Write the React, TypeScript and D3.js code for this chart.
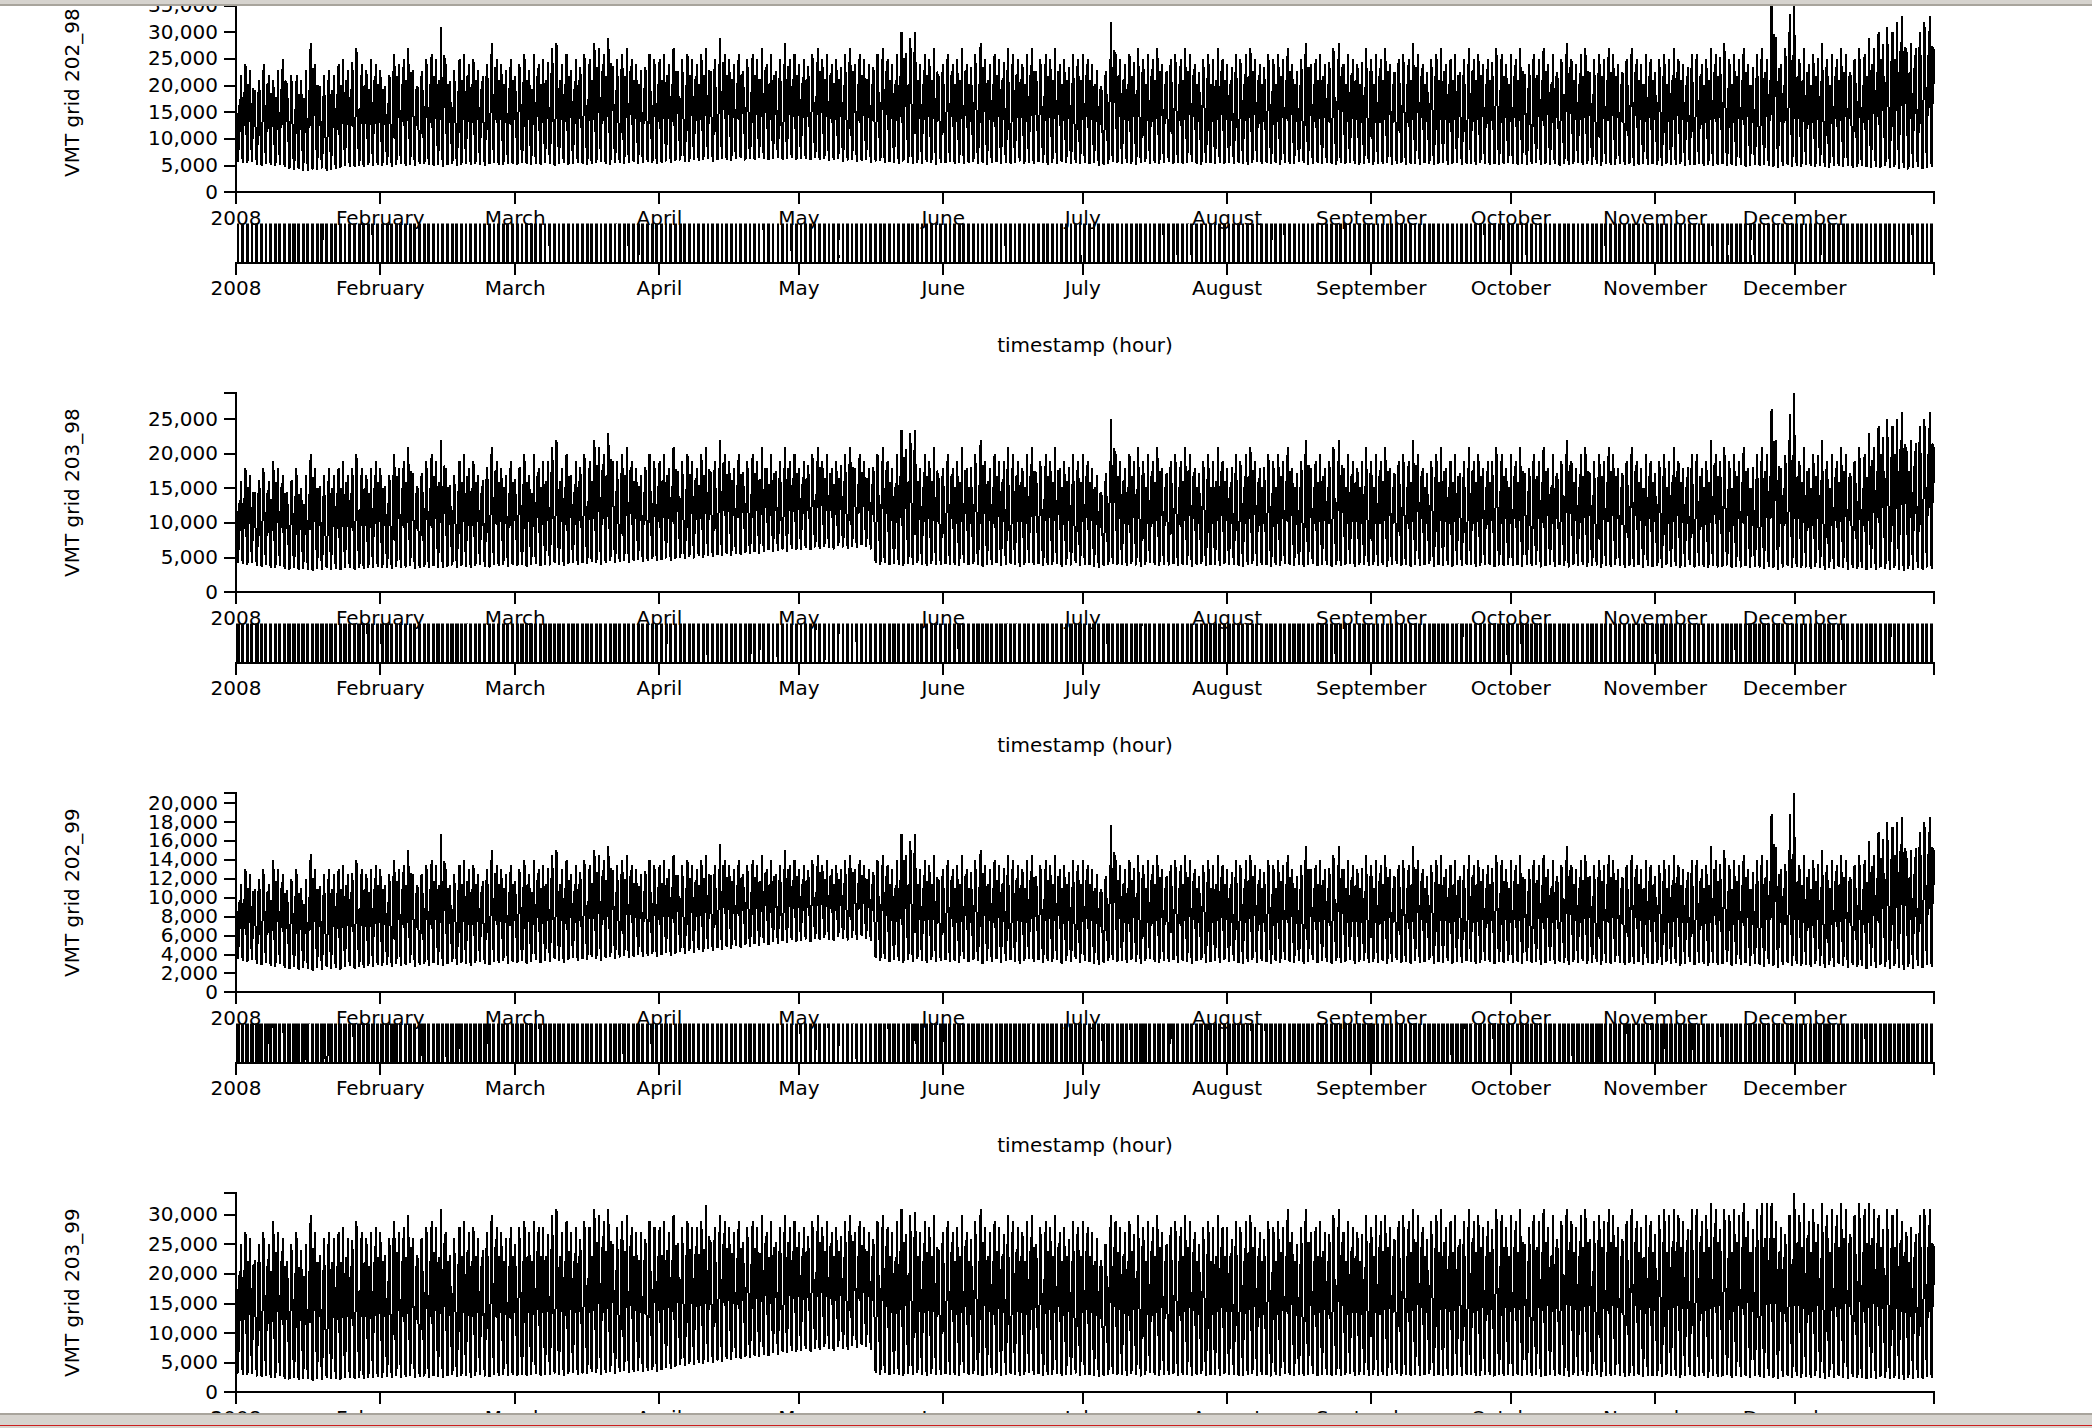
import React from "react";
import * as d3 from "d3";

// ---------------- DATA ----------------
const SERIES_NAMES = ["VMT grid 202_98", "VMT grid 203_98", "VMT grid 202_99", "VMT grid 203_99"];
const MONTH_LABELS = ["2008", "February", "March", "April", "May", "June", "July", "August", "September", "October", "November", "December"];
const X_TITLE = "timestamp (hour)";

const Y_TICKS_202_98 = [0, 5000, 10000, 15000, 20000, 25000, 30000, 35000];
const Y_TICKS_203_98 = [0, 5000, 10000, 15000, 20000, 25000];
const Y_TICKS_202_99 = [0, 2000, 4000, 6000, 8000, 10000, 12000, 14000, 16000, 18000, 20000];
const Y_TICKS_203_99 = [0, 5000, 10000, 15000, 20000, 25000, 30000];

// typical shape of one day (UTC hours 0..23), share of the day's range
const PROFILE_WEEKDAY = [0.92, 1.0, 0.84, 0.6, 0.47, 0.39, 0.31, 0.22, 0.13, 0.06, 0.02, 0.0, 0.04, 0.18, 0.5, 0.8, 0.78, 0.55, 0.42, 0.45, 0.52, 0.58, 0.66, 0.78];
const PROFILE_WEEKEND = [0.88, 0.82, 0.72, 0.6, 0.5, 0.42, 0.35, 0.27, 0.18, 0.1, 0.04, 0.01, 0.0, 0.04, 0.12, 0.24, 0.36, 0.48, 0.6, 0.72, 0.84, 1.0, 0.95, 0.9];

// daily peaks (thousands), 1 Jan .. 30 Dec 2008
const PEAK_202_98 = [
  19,22,24,23,21,23,24,22,21,23,25,22,20,22,21,23,28,24,22,21,23,22,24,25,23,27,22,24,23,25,24,
  23,22,24,26,24,25,27,23,22,25,24,26,25,31,24,23,22,25,26,24,25,23,24,26,28,25,24,23,25,
  24,26,25,23,26,24,25,27,28,25,24,26,23,25,26,24,25,28,27,26,29,25,24,26,27,25,24,23,26,25,24,
  25,26,24,27,25,23,26,25,24,26,27,25,24,29,26,25,24,26,25,23,26,25,27,24,26,25,24,28,25,26,
  24,25,26,24,27,25,26,24,25,26,25,27,24,26,25,24,26,25,27,25,24,26,30,29,30,25,24,26,25,27,24,
  25,26,24,25,27,24,26,25,28,25,24,26,25,27,24,26,25,24,26,27,25,24,26,25,27,24,25,26,24,25,
  26,25,24,23,22,25,32,26,25,24,26,27,25,24,26,25,27,24,25,26,24,25,27,26,24,25,26,24,25,27,25,
  24,26,25,24,26,27,25,24,26,25,24,26,25,27,24,25,26,28,24,25,26,24,27,25,28,24,26,25,24,27,25,
  24,26,25,27,24,25,26,24,25,28,26,24,25,26,25,27,24,25,26,25,24,27,25,26,24,25,27,25,26,24,
  26,25,27,24,25,26,25,27,24,26,25,26,28,25,24,26,27,25,24,26,25,27,26,24,25,26,27,25,24,26,25,
  25,26,24,25,27,25,24,26,25,26,24,25,27,26,28,25,24,26,25,27,24,26,25,27,25,36,28,24,30,37.4,
  26,25,27,24,26,28,25,24,26,25,27,26,25,27,24,26,29,27,30,31,29,30,32,33,27,28,30,32,31,33
];
const PEAK_203_98 = [
  15,16,18,17,16,18,17,16,19,18,17,16,18,17,15,17,20,18,17,16,18,17,18,19,17,20,17,18,17,18,19,
  18,17,18,20,18,19,21,17,17,19,18,20,19,22,18,17,17,19,20,18,19,17,18,20,21,19,18,17,19,
  18,20,19,17,20,18,19,21,22,19,18,20,17,19,20,18,19,22,21,20,23,19,18,20,21,19,18,17,20,19,18,
  19,20,18,21,19,17,20,19,18,20,21,19,18,22,20,19,18,20,19,17,20,19,21,18,20,19,18,21,19,20,
  18,19,20,18,21,19,20,18,19,20,19,21,18,20,19,18,20,19,21,19,18,20,23.5,23,23.5,19,18,20,19,21,18,
  19,20,18,19,21,18,20,19,22,19,18,20,19,21,18,20,19,18,20,21,19,18,20,19,21,18,19,20,18,19,
  20,19,18,17,16,19,25,20,19,18,20,21,19,18,20,19,21,18,19,20,18,19,21,20,18,19,20,18,19,21,19,
  18,20,19,18,20,21,19,18,20,19,18,20,19,21,18,19,20,22,18,19,20,18,21,19,22,18,20,19,18,21,19,
  18,20,19,21,18,19,20,18,19,22,20,18,19,20,19,21,18,19,20,19,18,21,19,20,18,19,21,19,20,18,
  20,19,21,18,19,20,19,21,18,20,19,20,22,19,18,20,21,19,18,20,19,21,20,18,19,20,21,19,18,20,19,
  19,20,18,19,21,19,18,20,19,20,18,19,22,20,21,19,18,20,19,21,18,20,19,21,20,26.5,22,18,22,28.8,
  20,19,21,18,20,22,19,18,20,19,21,20,19,21,18,20,23,21,24,25,23,24,25,26,21,22,24,25,24,26
];
const PEAK_202_99 = [
  11,11.5,13,12.5,12,13,12.5,11.5,14,13,12.5,12,13,12.5,11,12,14.6,13,12.5,12,13,12.5,13,13.5,12.5,14,12.5,13,12.5,13,13.5,
  13,12.5,13,14,13,13.5,15,12.5,12.5,13.5,13,14,13.5,16.7,13,12.5,12.5,13.5,14,13,13.5,12.5,13,14,15,13.5,13,12.5,13.5,
  13,14,13.5,12.5,14,13,13.5,14.5,15,13.5,13,14,12.5,13.5,14,13,13.5,15,14.5,14,15.5,13.5,13,14,14.5,13.5,13,12.5,14,13.5,13,
  13.5,14,13,14.5,13.5,12.5,14,13.5,13,14,14.5,13.5,13,15.7,14,13.5,13,14,13.5,12.5,14,13.5,14.5,13,14,13.5,13,15,13.5,14,
  13,13.5,14,13,14.5,13.5,14,13,13.5,14,13.5,14.5,13,14,13.5,13,14,13.5,14.5,13.5,13,14,16.7,16,16.7,13.5,13,14,13.5,14.5,13,
  13.5,14,13,13.5,14.5,13,14,13.5,15,13.5,13,14,13.5,14.5,13,14,13.5,13,14,14.5,13.5,13,14,13.5,14.5,13,13.5,14,13,13.5,
  14,13.5,13,12.5,12,13.5,17.7,14,13.5,13,14,14.5,13.5,13,14,13.5,14.5,13,13.5,14,13,13.5,14.5,14,13,13.5,14,13,13.5,14.5,13.5,
  13,14,13.5,13,14,14.5,13.5,13,14,13.5,13,14,13.5,14.5,13,13.5,14,15.5,13,13.5,14,13,14.5,13.5,15.5,13,14,13.5,13,14.5,13.5,
  13,14,13.5,14.5,13,13.5,14,13,13.5,15.5,14,13,13.5,14,13.5,14.5,13,13.5,14,13.5,13,14.5,13.5,14,13,13.5,14.5,13.5,14,13,
  14,13.5,14.5,13,13.5,14,13.5,14.5,13,14,13.5,14,15.5,13.5,13,14,14.5,13.5,13,14,13.5,14.5,14,13,13.5,14,14.5,13.5,13,14,13.5,
  13.5,14,13,13.5,14.5,13.5,13,14,13.5,14,13,13.5,15.5,14,15,13.5,13,14,13.5,14.5,13,14,13.5,14.5,14,18.9,15,13,15,21.1,
  14,13.5,14.5,13,14,15,13.5,13,14,13.5,14.5,14,13.5,14.5,13,14,16,14.5,17,18,16.5,17.5,18,18.5,14.5,15,17,18,17.5,18.5
];
const PEAK_203_99 = [
  24,25,27,26,25,27,26,25,29,27,26,25,27,26,24,25,30,27,26,25,27,26,27,28,26,29,26,27,26,27,28,
  27,26,28,29,27,28,30,26,26,28,27,29,28,31,27,26,26,28,29,27,28,26,27,29,30,28,27,26,28,
  28,29,28,27,29,28,28,30,31,28,27,29,27,28,29,28,28,31,30,29,31,28,27,29,30,28,27,27,29,28,28,
  28,29,27,30,28,27,29,28,28,29,31.6,28,27,30,29,28,27,29,28,27,29,28,30,27,29,28,27,30,28,29,
  27,28,29,27,30,28,29,27,28,29,28,30,27,29,28,27,29,28,30,28,27,29,31,30,30.5,28,27,29,28,30,27,
  28,29,27,28,30,27,29,28,31,28,27,29,28,30,27,29,28,27,29,30,28,27,29,28,30,27,28,29,27,28,
  29,28,27,26,25,28,30,29,28,27,29,30,28,27,29,28,30,27,28,29,27,28,30,29,27,28,29,27,28,30,28,
  28,29,28,27,29,30,28,27,29,28,27,29,28,31,27,28,29,31,27,28,29,27,30,28,31,27,29,28,27,30,28,
  28,30,29,30,28,29,30,28,29,31,30,28,29,30,29,31,28,29,30,29,28,31,29,30,28,29,31,29,30,28,
  30,29,31,28,29,30,29,31,28,30,29,30,31,29,28,30,31,29,28,30,29,31,30,28,29,30,31,29,28,30,29,
  30,31,29,30,31,30,29,31,30,31,29,30,32,31,31,30,29,31,30,32,29,31,30,32,32,32,29,28,30,33.7,
  31,30,32,29,31,32,30,29,31,30,32,31,30,32,29,31,32,31,30,31,29,30,31,29,27,28,30,31,30,31
];

// nightly lows (thousands), 1 Jan .. 30 Dec 2008
const LOW_202_98 = [
  5.8,5.6,5.5,5.7,5.2,5.0,5.3,5.1,4.9,5.2,4.8,4.5,4.2,4.4,4.1,4.0,4.3,4.2,4.5,4.1,4.3,4.4,4.6,4.9,4.7,4.8,5.0,4.7,5.1,4.9,5.2,
  5.0,5.1,4.8,5.2,5.3,5.0,5.2,4.9,5.3,5.4,5.1,5.0,5.2,4.8,5.1,5.3,5.0,5.2,5.4,5.1,5.3,5.2,5.0,5.3,5.5,5.2,5.1,5.4,5.3,
  5.2,5.5,5.3,5.1,5.4,5.2,5.6,5.3,5.0,5.4,5.5,5.2,5.3,5.6,5.4,5.1,5.3,5.5,5.7,5.4,5.2,5.5,5.6,5.3,5.5,5.7,5.4,5.6,5.8,5.5,5.3,
  5.6,5.8,5.5,5.9,6.0,5.7,5.8,6.1,5.9,6.0,6.2,5.8,6.0,6.3,6.1,5.9,6.2,6.4,6.0,6.3,6.1,6.4,6.2,6.0,6.3,6.5,6.1,6.2,6.4,6.0,
  6.2,6.3,6.0,6.4,6.1,6.2,5.9,6.1,6.3,5.8,6.0,6.1,5.7,5.9,6.0,5.6,5.8,5.9,5.5,5.7,5.6,5.4,5.8,5.5,5.3,5.6,5.4,5.7,5.5,5.2,5.6,
  5.5,5.7,5.4,5.6,5.3,5.5,5.8,5.4,5.6,5.2,5.5,5.7,5.3,5.6,5.4,5.5,5.8,5.3,5.6,5.4,5.7,5.5,5.2,5.6,5.4,5.7,5.5,5.3,5.6,5.4,
  5.6,5.3,5.5,5.0,5.2,5.4,5.7,5.5,5.3,5.6,5.4,5.2,5.5,5.7,5.4,5.6,5.3,5.5,5.8,5.4,5.6,5.3,5.5,5.7,5.4,5.2,5.6,5.5,5.3,5.6,5.4,
  5.5,5.3,5.6,5.4,5.2,5.5,5.7,5.3,5.6,5.4,5.5,5.2,5.6,5.4,5.3,5.7,5.5,5.2,5.4,5.6,5.3,5.5,5.4,5.2,5.6,5.3,5.5,5.4,5.1,5.3,5.5,
  5.2,5.4,5.3,5.5,5.1,5.3,5.6,5.2,5.4,5.3,5.1,5.5,5.3,5.2,5.4,5.6,5.2,5.3,5.5,5.1,5.4,5.3,5.2,5.5,5.3,5.1,5.4,5.2,5.3,5.5,
  5.3,5.1,5.4,5.2,5.3,5.5,5.1,5.4,5.2,5.3,5.0,5.4,5.2,5.3,5.5,5.1,5.3,5.2,5.4,5.0,5.3,5.2,5.1,5.4,5.2,5.3,5.0,5.2,5.4,5.1,5.3,
  5.2,5.0,5.3,5.1,5.2,5.4,5.0,5.2,5.1,5.3,4.9,5.2,5.0,5.1,5.3,4.9,5.1,5.0,5.2,4.8,5.0,5.1,4.9,5.2,5.0,4.8,4.6,4.9,5.1,4.8,
  5.0,4.8,5.1,4.9,4.7,5.0,4.8,4.6,4.9,5.0,4.7,4.9,4.6,4.8,5.0,4.7,4.5,4.8,4.6,4.9,4.5,4.7,4.4,4.6,4.3,4.5,4.7,4.4,4.6,4.8
];
const LOW_203_98 = [
  4.3,4.1,4.0,4.2,3.8,3.7,3.9,3.6,3.5,3.8,3.4,3.3,3.5,3.2,3.4,3.3,3.1,3.4,3.2,3.5,3.3,3.4,3.2,3.5,3.6,3.3,3.5,3.4,3.6,3.5,3.7,
  3.5,3.6,3.4,3.7,3.5,3.6,3.8,3.4,3.6,3.7,3.5,3.8,3.6,3.5,3.7,3.9,3.6,3.8,3.7,3.5,3.8,3.9,3.7,3.6,3.9,3.8,4.0,3.7,3.9,
  3.8,4.0,3.7,3.9,4.1,3.8,4.0,3.9,4.2,4.0,3.8,4.1,4.3,4.0,4.2,4.1,4.4,4.2,4.0,4.3,4.5,4.2,4.4,4.6,4.3,4.5,4.7,4.4,4.6,4.8,4.5,
  4.7,4.9,4.6,4.8,5.0,4.8,5.1,4.9,5.2,5.0,5.3,5.1,5.4,5.2,5.5,5.3,5.6,5.4,5.7,5.5,5.8,5.6,5.9,6.1,5.8,6.0,6.2,5.9,6.3,6.1,
  6.2,6.4,6.1,6.5,6.3,6.6,6.4,6.2,6.7,6.5,6.3,6.6,6.4,6.8,6.5,6.2,4.3,4.0,4.2,3.9,4.1,4.0,3.8,4.1,3.9,4.2,4.0,3.8,4.1,3.9,4.0,
  4.1,3.9,4.0,3.8,4.2,3.9,4.1,4.0,3.7,4.0,3.9,4.2,3.8,4.0,4.1,3.9,3.7,4.0,4.2,3.9,4.1,3.8,4.0,3.9,4.1,3.7,4.0,3.9,4.2,3.8,
  4.0,3.9,3.7,3.6,3.8,4.0,4.1,3.9,4.0,3.8,4.1,3.9,3.7,4.0,4.2,3.9,3.8,4.0,3.9,4.1,3.8,4.0,3.9,3.7,4.0,4.1,3.8,3.9,4.0,3.8,4.1,
  3.9,4.0,3.8,3.7,3.9,4.1,3.8,4.0,3.9,3.7,4.0,3.8,4.1,3.9,3.8,4.0,3.7,3.9,4.1,3.8,4.0,3.9,3.7,4.0,3.8,3.9,4.1,3.7,3.9,4.0,3.8,
  3.9,3.8,4.0,3.7,3.9,4.1,3.8,3.9,3.7,4.0,3.8,3.9,4.1,3.7,3.9,3.8,4.0,3.7,3.9,3.8,4.0,3.9,3.7,3.8,4.0,3.9,3.7,3.9,3.8,4.0,
  3.8,3.9,3.7,4.0,3.8,3.9,3.6,3.8,4.0,3.7,3.9,3.8,3.6,3.9,3.8,4.0,3.7,3.8,3.9,3.6,3.8,3.7,3.9,3.8,3.6,3.8,3.7,3.9,3.6,3.8,3.7,
  3.8,3.6,3.9,3.7,3.8,3.5,3.7,3.9,3.6,3.8,3.7,3.5,3.8,3.6,3.7,3.9,3.5,3.7,3.6,3.8,3.5,3.7,3.6,3.4,3.7,3.5,3.3,3.6,3.8,3.5,
  3.7,3.5,3.6,3.4,3.7,3.5,3.3,3.6,3.4,3.7,3.5,3.3,3.6,3.4,3.5,3.2,3.5,3.3,3.6,3.4,3.2,3.5,3.3,3.1,3.4,3.2,3.5,3.3,3.6,3.4
];
const LOW_202_99 = [
  3.5,3.3,3.2,3.4,3.0,2.9,3.1,2.8,2.7,3.0,2.6,2.5,2.7,2.4,2.6,2.5,2.3,2.6,2.4,2.7,2.5,2.6,2.4,2.7,2.8,2.5,2.7,2.6,2.8,2.7,2.9,
  2.8,2.9,2.7,3.0,2.8,2.9,3.1,2.7,2.9,3.0,2.8,3.1,2.9,2.8,3.0,3.2,2.9,3.1,3.0,2.8,3.1,3.2,3.0,2.9,3.2,3.1,3.3,3.0,3.2,
  3.1,3.3,3.0,3.2,3.4,3.1,3.3,3.2,3.5,3.3,3.1,3.4,3.6,3.3,3.5,3.4,3.7,3.5,3.3,3.6,3.8,3.5,3.7,3.9,3.6,3.8,4.0,3.7,3.9,4.1,3.8,
  4.0,4.2,3.9,4.1,4.3,4.1,4.4,4.2,4.5,4.3,4.6,4.4,4.7,4.5,4.8,4.6,4.9,4.7,5.0,4.8,5.1,4.9,5.2,5.0,5.3,5.1,5.4,5.2,5.5,5.3,
  5.4,5.6,5.3,5.7,5.5,5.8,5.6,5.4,5.9,5.7,5.5,5.8,5.6,6.0,5.7,5.4,3.6,3.3,3.5,3.2,3.4,3.3,3.1,3.4,3.2,3.5,3.3,3.1,3.4,3.2,3.3,
  3.4,3.2,3.3,3.1,3.5,3.2,3.4,3.3,3.0,3.3,3.2,3.5,3.1,3.3,3.4,3.2,3.0,3.3,3.5,3.2,3.4,3.1,3.3,3.2,3.4,3.0,3.3,3.2,3.5,3.1,
  3.3,3.2,3.0,2.9,3.1,3.3,3.4,3.2,3.3,3.1,3.4,3.2,3.0,3.3,3.5,3.2,3.1,3.3,3.2,3.4,3.1,3.3,3.2,3.0,3.3,3.4,3.1,3.2,3.3,3.1,3.4,
  3.2,3.3,3.1,3.0,3.2,3.4,3.1,3.3,3.2,3.0,3.3,3.1,3.4,3.2,3.1,3.3,3.0,3.2,3.4,3.1,3.3,3.2,3.0,3.3,3.1,3.2,3.4,3.0,3.2,3.3,3.1,
  3.2,3.1,3.3,3.0,3.2,3.4,3.1,3.2,3.0,3.3,3.1,3.2,3.4,3.0,3.2,3.1,3.3,3.0,3.2,3.1,3.3,3.2,3.0,3.1,3.3,3.2,3.0,3.2,3.1,3.3,
  3.1,3.2,3.0,3.3,3.1,3.2,2.9,3.1,3.3,3.0,3.2,3.1,2.9,3.2,3.1,3.3,3.0,3.1,3.2,2.9,3.1,3.0,3.2,3.1,2.9,3.1,3.0,3.2,2.9,3.1,3.0,
  3.1,2.9,3.2,3.0,3.1,2.8,3.0,3.2,2.9,3.1,3.0,2.8,3.1,2.9,3.0,3.2,2.8,3.0,2.9,3.1,2.8,3.0,2.9,2.7,3.0,2.8,2.6,2.9,3.1,2.8,
  3.0,2.8,2.9,2.7,3.0,2.8,2.6,2.9,2.7,3.0,2.8,2.6,2.9,2.7,2.8,2.5,2.8,2.6,2.9,2.7,2.5,2.8,2.6,2.4,2.7,2.5,2.8,2.6,2.9,2.7
];
const LOW_203_99 = [
  3.2,3.0,2.9,3.1,2.7,2.6,2.8,2.5,2.4,2.7,2.3,2.2,2.4,2.1,2.3,2.2,2.0,2.3,2.1,2.4,2.2,2.3,2.1,2.4,2.5,2.2,2.4,2.3,2.5,2.4,2.6,
  2.5,2.6,2.4,2.7,2.5,2.6,2.8,2.4,2.6,2.7,2.5,2.8,2.6,2.5,2.7,2.9,2.6,2.8,2.7,2.5,2.8,2.9,2.7,2.6,2.9,2.8,3.0,2.7,2.9,
  2.8,3.0,2.7,2.9,3.1,2.8,3.0,2.9,3.2,3.0,2.8,3.1,3.3,3.0,3.2,3.1,3.4,3.2,3.0,3.3,3.5,3.2,3.4,3.6,3.3,3.5,3.7,3.4,3.6,3.8,3.5,
  3.8,4.1,3.9,4.3,4.6,4.4,4.8,4.6,5.0,4.8,5.2,5.0,5.4,5.2,5.6,5.4,5.8,5.6,6.0,5.8,6.2,6.0,6.4,6.2,6.6,6.4,6.8,6.6,7.0,6.8,
  7.0,7.3,6.9,7.4,7.1,7.6,7.3,7.0,7.7,7.4,7.1,7.8,7.5,8.0,7.6,7.2,3.3,3.0,3.2,2.9,3.1,3.0,2.8,3.1,2.9,3.2,3.0,2.8,3.1,2.9,3.0,
  3.1,2.9,3.0,2.8,3.2,2.9,3.1,3.0,2.7,3.0,2.9,3.2,2.8,3.0,3.1,2.9,2.7,3.0,3.2,2.9,3.1,2.8,3.0,2.9,3.1,2.7,3.0,2.9,3.2,2.8,
  3.0,2.9,2.7,2.6,2.8,3.0,3.1,2.9,3.0,2.8,3.1,2.9,2.7,3.0,3.2,2.9,2.8,3.0,2.9,3.1,2.8,3.0,2.9,2.7,3.0,3.1,2.8,2.9,3.0,2.8,3.1,
  2.9,3.0,2.8,2.7,2.9,3.1,2.8,3.0,2.9,2.7,3.0,2.8,3.1,2.9,2.8,3.0,2.7,2.9,3.1,2.8,3.0,2.9,2.7,3.0,2.8,2.9,3.1,2.7,2.9,3.0,2.8,
  2.9,2.8,3.0,2.7,2.9,3.1,2.8,2.9,2.7,3.0,2.8,2.9,3.1,2.7,2.9,2.8,3.0,2.7,2.9,2.8,3.0,2.9,2.7,2.8,3.0,2.9,2.7,2.9,2.8,3.0,
  2.8,2.9,2.7,3.0,2.8,2.9,2.6,2.8,3.0,2.7,2.9,2.8,2.6,2.9,2.8,3.0,2.7,2.8,2.9,2.6,2.8,2.7,2.9,2.8,2.6,2.8,2.7,2.9,2.6,2.8,2.7,
  2.8,2.6,2.9,2.7,2.8,2.5,2.7,2.9,2.6,2.8,2.7,2.5,2.8,2.6,2.7,2.9,2.5,2.7,2.6,2.8,2.5,2.7,2.6,2.4,2.7,2.5,2.3,2.6,2.8,2.5,
  2.7,2.5,2.6,2.4,2.7,2.5,2.3,2.6,2.4,2.7,2.5,2.3,2.6,2.4,2.5,2.2,2.5,2.3,2.6,2.4,2.2,2.5,2.3,2.1,2.4,2.2,2.5,2.3,2.6,2.4
];

// ---------------- LAYOUT ----------------
const W = 2092;
const H = 1428;
const X0 = 236;
const X1 = 1934;
const FIRST_BOTTOM = 192.4;
const PANEL_STEP = 400;
const PLOT_H = 199.6;
const CTX_TOP_OFF = 31;
const CTX_BOTTOM_OFF = 70.3;
const FONT = "DejaVu Sans, Verdana, sans-serif";
const CONTEXT_CUT = [7000, 7000, 6100, 8500];

type Pt = { t: Date; v: number };

function buildSeries(peaks: number[], lows: number[]): Pt[] {
  const t0 = Date.UTC(2008, 0, 1);
  const out: Pt[] = [];
  for (let day = 0; day < peaks.length; day++) {
    const dow = new Date(t0 + day * 864e5).getUTCDay();
    const prof = dow === 0 || dow === 6 ? PROFILE_WEEKEND : PROFILE_WEEKDAY;
    const lo = lows[Math.min(lows.length - 1, day)];
    const pk = peaks[day];
    for (let h = 0; h < 24; h++) {
      out.push({ t: new Date(t0 + (day * 24 + h) * 36e5), v: (lo + (pk - lo) * prof[h]) * 1000 });
    }
  }
  return out;
}

const SERIES = [
  buildSeries(PEAK_202_98, LOW_202_98),
  buildSeries(PEAK_203_98, LOW_203_98),
  buildSeries(PEAK_202_99, LOW_202_99),
  buildSeries(PEAK_203_99, LOW_203_99),
];
const Y_TICKS = [Y_TICKS_202_98, Y_TICKS_203_98, Y_TICKS_202_99, Y_TICKS_203_99];

const fmt = d3.format(",");

function Panel({ idx }: { idx: number }) {
  const data = SERIES[idx];
  const bottom = FIRST_BOTTOM + PANEL_STEP * idx;
  const top = bottom - PLOT_H;
  const cTop = bottom + CTX_TOP_OFF;
  const cBottom = bottom + CTX_BOTTOM_OFF;

  const ext = d3.extent(data, (d) => d.t) as [Date, Date];
  const x = d3.scaleUtc().domain(ext).range([X0, X1]);
  const y = d3.scaleLinear().domain([0, d3.max(data, (d) => d.v) as number]).range([bottom, top]);
  const cut = CONTEXT_CUT[idx];
  const cy = d3.scaleLinear().domain([cut, cut + 400]).range([cBottom, cTop]);

  const line = d3.line<Pt>().x((d) => x(d.t)).y((d) => y(d.v));
  const ctxLine = d3.line<Pt>().x((d) => x(d.t)).y((d) => cy(d.v));
  const months = x.ticks(d3.utcMonth.every(1) as any);
  const clipId = `ctxclip${idx}`;
  const ax = { stroke: "#000", strokeWidth: 2, fill: "none", shapeRendering: "crispEdges" as const };

  return (
    <g>
      <defs>
        <clipPath id={clipId}>
          <rect x={X0} y={cTop} width={X1 - X0} height={cBottom - cTop} />
        </clipPath>
      </defs>
      {/* main series */}
      <path d={line(data) || ""} fill="none" stroke="#000" strokeWidth={2} shapeRendering="crispEdges" />
      {/* y axis */}
      <path d={`M${X0 - 12},${top}H${X0}V${bottom}H${X0 - 12}`} {...ax} />
      {Y_TICKS[idx].map((v) => (
        <g key={v}>
          <line x1={X0 - 12} x2={X0} y1={y(v)} y2={y(v)} {...ax} />
          <text x={X0 - 18} y={y(v)} dy="0.32em" textAnchor="end" fontSize={20} fontFamily={FONT}>
            {fmt(v)}
          </text>
        </g>
      ))}
      <text transform={`translate(79,${(top + bottom) / 2}) rotate(-90)`} textAnchor="middle" fontSize={20} fontFamily={FONT}>
        {SERIES_NAMES[idx]}
      </text>
      {/* main x axis */}
      <path d={`M${X0},${bottom + 12}V${bottom}H${X1}V${bottom + 12}`} {...ax} />
      {months.map((m, i) => (
        <g key={+m}>
          <line x1={x(m)} x2={x(m)} y1={bottom} y2={bottom + 12} {...ax} />
          <text x={x(m)} y={bottom + 18} dy="0.71em" textAnchor="middle" fontSize={20} fontFamily={FONT}>
            {MONTH_LABELS[i]}
          </text>
        </g>
      ))}
      {/* context strip */}
      <g clipPath={`url(#${clipId})`}>
        <path d={ctxLine(data) || ""} fill="none" stroke="#000" strokeWidth={2} shapeRendering="crispEdges" />
      </g>
      <path d={`M${X0},${cBottom + 12}V${cBottom}H${X1}V${cBottom + 12}`} {...ax} />
      {months.map((m, i) => (
        <g key={"c" + +m}>
          <line x1={x(m)} x2={x(m)} y1={cBottom} y2={cBottom + 12} {...ax} />
          <text x={x(m)} y={cBottom + 18} dy="0.71em" textAnchor="middle" fontSize={20} fontFamily={FONT}>
            {MONTH_LABELS[i]}
          </text>
        </g>
      ))}
      <text x={(X0 + X1) / 2} y={bottom + 160} textAnchor="middle" fontSize={20} fontFamily={FONT}>
        {X_TITLE}
      </text>
    </g>
  );
}

export default function App() {
  return (
    <svg
      width={W}
      height={H}
      viewBox={`0 0 ${W} ${H}`}
      style={{ position: "absolute", left: 0, top: 0, display: "block", background: "#fff" }}
    >
      <rect x={0} y={0} width={W} height={H} fill="#fff" />
      {SERIES.map((_, i) => (
        <Panel key={i} idx={i} />
      ))}
      {/* window chrome bands visible in the screenshot */}
      <rect x={0} y={0} width={W} height={4} fill="#d6d3ce" />
      <rect x={0} y={4} width={W} height={2} fill="#a8a49c" />
      <rect x={0} y={1413} width={W} height={2} fill="#a8a49c" />
      <rect x={0} y={1415} width={W} height={13} fill="#d6d3ce" />
      <rect x={0} y={1425} width={W} height={1} fill="#cc2020" />
    </svg>
  );
}
